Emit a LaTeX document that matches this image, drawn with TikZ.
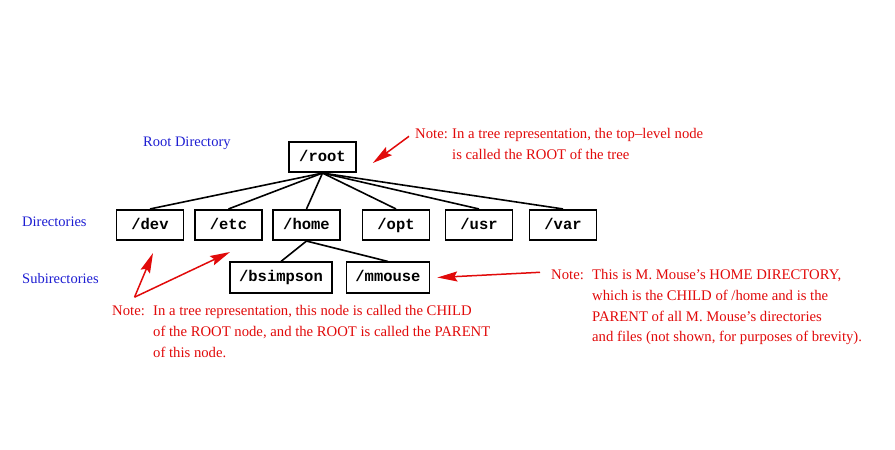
\documentclass[tikz,border=0pt]{standalone}
\usepackage{fontspec}
\setmainfont{Liberation Serif}
\setmonofont{Liberation Mono}
\usetikzlibrary{arrows.meta,calc,positioning}
\definecolor{notered}{RGB}{225,10,10}
\definecolor{levelblue}{RGB}{30,30,210}
\tikzset{%
	dirbox/.style   = {draw, rectangle, line width=1.6pt, minimum height=30.5pt, minimum width=67pt, inner xsep=9pt, text height=11pt, text depth=3pt, font=\fontsize{15.5}{18}\selectfont\ttfamily\bfseries},
	branch/.style   = {line width=1.6pt}, % tree edge
	level/.style    = {text=levelblue, anchor=base west, inner sep=0pt, font=\fontsize{14.5}{17}\selectfont}, % level name
	note/.style     = {text=notered, anchor=base west, inner sep=0pt, align=left, font=\fontsize{14.7}{20.8}\selectfont}, % remark
	notetext/.style = {note, anchor=north west},
	pointer/.style  = {draw=notered, line width=1.5pt, -{Stealth[length=20pt,width=10pt,inset=3pt]}},
}

\begin{document}
\begin{tikzpicture}[x=1pt,y=-1pt]
	\useasboundingbox (0,0) rectangle (895,450);
	% level names
	\node [level] (rootlbl) at (143,146) {Root Directory};
	\node [level] (dirlbl) at (22,226) {Directories};
	\node [level] (sublbl) at (22,283) {Subirectories};
	% directory tree
	\node [dirbox] (root) at (322.5,157) {/root};
	\node [dirbox] (dev) at (150,225) {/dev};
	\node [dirbox] (etc) at (228.5,225) {/etc};
	\node [dirbox] (home) at (306.5,225) {/home};
	\node [dirbox] (opt) at (396,225) {/opt};
	\node [dirbox] (usr) at (479,225) {/usr};
	\node [dirbox] (var) at (563,225) {/var};
	\node [dirbox] (bsimpson) at (281,277.5) {/bsimpson};
	\node [dirbox] (mmouse) at (388,277.5) {/mmouse};
	\foreach \dir in {dev,etc,home,opt,usr,var}
		\draw [branch] (root.south) -- (\dir.north);
	\draw [branch] (home.south) -- (bsimpson.north);
	\draw [branch] (home.south) -- (mmouse.north);
	% notes
	\node [note] (rootnote) at (415,138) {Note:};
	\node [notetext] (rootnotetxt) at (452,128) {In a tree representation, the top–level node\\is called the ROOT of the tree};
	\node [note] (childnote) at (112,315) {Note:};
	\node [notetext] (childnotetxt) at (153,305) {In a tree representation, this node is called the CHILD\\of the ROOT node, and the ROOT is called the PARENT\\of this node.};
	\node [note] (homenote) at (551,279) {Note:};
	\node [notetext] (homenotetxt) at (592,269) {This is M. Mouse’s HOME DIRECTORY,\\which is the CHILD of /home and is the\\PARENT of all M. Mouse’s directories\\and files (not shown, for purposes of brevity).};
	% arrows
	\coordinate (roottip) at ([shift={(16,6)}]root.east);
	\coordinate (devtip) at ([shift={(3,12)}]dev.south);
	\coordinate (etctip) at ([shift={(1.5,11)}]etc.south);
	\coordinate (mmousetip) at ([shift={(7,0)}]mmouse.east);
	\coordinate (childfork) at ([shift={(6,-8)}]childnote.north);
	\draw [pointer] ([shift={(-6,3)}]rootnote.west) -- (roottip);
	\draw [pointer] (childfork) -- (devtip);
	\draw [pointer] (childfork) -- (etctip);
	\draw [pointer] ([shift={(-11,-2)}]homenote.west) -- (mmousetip);
\end{tikzpicture}
\end{document}
